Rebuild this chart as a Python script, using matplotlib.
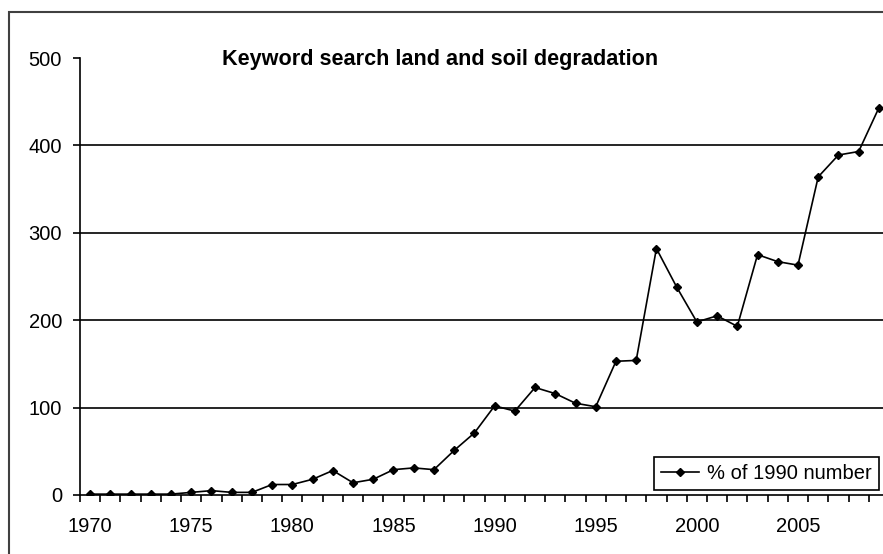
#!/usr/bin/env python3
"""Keyword search land and soil degradation, % of 1990 number."""

import matplotlib

matplotlib.use("Agg")
import matplotlib.pyplot as plt
import numpy as np
from matplotlib.patches import Rectangle

YEARS = list(range(1970, 2010))
PCT_OF_1990 = [
    1, 1, 1, 1, 1, 3, 5, 3, 3, 12,
    12, 18, 28, 14, 18, 29, 31, 29, 51, 71,
    102, 96, 123, 116, 105, 101, 153, 154, 282, 238,
    198, 205, 193, 275, 267, 263, 364, 389, 393, 443,
]
LABEL_YEARS = [1970, 1975, 1980, 1985, 1990, 1995, 2000, 2005]
Y_TICKS = [0, 100, 200, 300, 400, 500]
GRID_VALUES = [100, 200, 300, 400]
TITLE = "Keyword search land and soil degradation"
SERIES_LABEL = "% of 1990 number"

W, H = 883, 554
DPI = 100


def main() -> None:
    plt.rcParams["font.family"] = ["Liberation Sans", "DejaVu Sans"]
    fig = plt.figure(figsize=(W / DPI, H / DPI), dpi=DPI)

    # outer chart frame, cut off on the right and bottom like the source
    fig.patches.append(
        Rectangle((9 / W, -0.1), 1.2, 1 - 12 / H + 0.1, transform=fig.transFigure,
                  fill=False, edgecolor="#404040", linewidth=1.5)
    )

    ax = fig.add_axes([80 / W, (H - 495) / H, 809 / W, 437 / H])
    ax.set_xlim(YEARS[0] - 0.5, YEARS[-1] + 0.5)
    ax.set_ylim(Y_TICKS[0], Y_TICKS[-1])

    for v in GRID_VALUES:
        ax.axhline(v, color="black", linewidth=1.2, zorder=1)

    ax.plot(YEARS, PCT_OF_1990, color="black", linewidth=1.2, marker="D",
            markersize=4.2, label=SERIES_LABEL, zorder=3)

    for side in ("top", "right"):
        ax.spines[side].set_visible(False)
    for side in ("left", "bottom"):
        ax.spines[side].set_linewidth(1.2)

    ax.set_yticks(Y_TICKS)
    ax.tick_params(axis="y", direction="out", length=5, width=1.2, pad=8, labelsize=14.5)

    ax.set_xticks(np.arange(YEARS[0] - 0.5, YEARS[-1] + 1))
    ax.set_xticklabels([])
    ax.tick_params(axis="x", which="major", direction="out", length=5, width=1.2)
    ax.set_xticks(LABEL_YEARS, minor=True)
    ax.set_xticklabels([str(y) for y in LABEL_YEARS], minor=True)
    ax.tick_params(axis="x", which="minor", length=0, pad=16, labelsize=14.5)

    fig.text(440 / W, 1 - 60 / H, TITLE, fontsize=15.6, fontweight="bold",
             ha="center", va="center")

    leg = ax.legend(loc="lower right", bbox_to_anchor=(879 / W, (H - 490) / H),
                    bbox_transform=fig.transFigure, fontsize=14.5, frameon=True,
                    fancybox=False, framealpha=1, edgecolor="black", borderaxespad=0,
                    handlelength=1.9, handletextpad=0.4, borderpad=0.35)
    leg.get_frame().set_linewidth(1.2)

    fig.savefig("out.png", dpi=DPI)


if __name__ == "__main__":
    main()
